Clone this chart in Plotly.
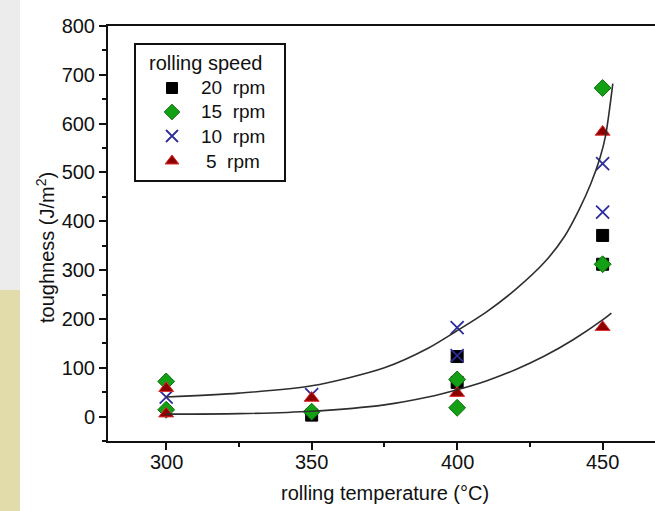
import plotly.graph_objects as go

# Measured toughness at each rolling temperature, per rolling speed
temp_20 = [350, 400, 400, 450, 450]
tough_20 = [3, 123, 70, 371, 312]

temp_15 = [300, 300, 350, 400, 400, 450, 450]
tough_15 = [72, 14, 10, 76, 18, 673, 312]

temp_10 = [300, 350, 400, 400, 450, 450]
tough_10 = [40, 45, 182, 125, 518, 419]

temp_5 = [300, 300, 350, 400, 450, 450]
tough_5 = [58, 6, 38, 48, 583, 183]

speed_labels = ["20\u00a0\u00a0rpm", "15\u00a0\u00a0rpm", "10\u00a0\u00a0rpm", "5\u00a0\u00a0rpm"]

# Trend curves (upper and lower envelopes)
trend_hi_t = [300, 325, 350, 375, 390, 400, 410, 420, 430, 437, 442, 446, 449, 451, 453.5]
trend_hi_v = [40, 48, 63, 100, 140, 176, 214, 260, 316, 370, 425, 478, 528, 575, 682]
trend_lo_t = [300, 325, 350, 375, 390, 400, 410, 420, 430, 440, 450, 453]
trend_lo_v = [5, 6, 11, 24, 40, 55, 73, 96, 124, 158, 198, 212]

x_ticks = [300, 350, 400, 450]
y_ticks = [0, 100, 200, 300, 400, 500, 600, 700, 800]

FONT = "Arial, Liberation Sans, sans-serif"
INK = "#111111"

styles = [
    dict(symbol="square", size=12, color="#000000",
         line=dict(color="#000000", width=1)),
    dict(symbol="diamond", size=13, color="#14a014",
         line=dict(color="#0b6e0b", width=1)),
    dict(symbol="x-thin", size=13, color="#2c2c9c",
         line=dict(color="#2c2c9c", width=1.8)),
    dict(symbol="triangle-up", size=13, color="#8c0000",
         line=dict(color="#e03030", width=1)),
]
series = [(temp_20, tough_20), (temp_15, tough_15),
          (temp_10, tough_10), (temp_5, tough_5)]

fig = go.Figure()

for (tx, ty), name, st in zip(series, speed_labels, styles):
    fig.add_trace(go.Scatter(x=tx, y=ty, mode="markers", name=name,
                             marker=st, showlegend=False))

for tx, ty in ((trend_hi_t, trend_hi_v), (trend_lo_t, trend_lo_v)):
    fig.add_trace(go.Scatter(
        x=tx, y=ty, mode="lines", showlegend=False, hoverinfo="skip",
        line=dict(color="#2e2e2e", width=1.6, shape="spline", smoothing=0.8),
    ))

L, R, T, B = 108, 0, 26, 70
W, H = 655, 511
pw, ph = W - L - R, H - T - B


def px_x(p):
    return (p - L) / pw


def px_y(p):
    return (H - B - p) / ph


# Key box: symbols on a pixel-scaled overlay axis, labels as text
key_sym_x = 172
key_text_x = [199, 199, 199, 204]
key_rows = [88, 112, 136, 161]

for name, st, ky in zip(speed_labels, styles, key_rows):
    small = dict(st)
    small["size"] = st["size"] - 1
    fig.add_trace(go.Scatter(x=[key_sym_x], y=[ky], mode="markers",
                             marker=small, xaxis="x2", yaxis="y2",
                             showlegend=False, hoverinfo="skip", name=name))

for name, kx, ky in zip(speed_labels, key_text_x, key_rows):
    fig.add_annotation(text=name, xref="paper", yref="paper",
                       x=px_x(kx), y=px_y(ky), xanchor="left", yanchor="middle",
                       showarrow=False, font=dict(family=FONT, size=19, color=INK))

fig.add_annotation(text="rolling speed", xref="paper", yref="paper",
                   x=px_x(147), y=px_y(63), xanchor="left", yanchor="middle",
                   showarrow=False, font=dict(family=FONT, size=20, color=INK))

fig.add_shape(type="rect", xref="paper", yref="paper",
              x0=px_x(135), x1=px_x(285), y0=px_y(181), y1=px_y(44),
              fillcolor="rgba(0,0,0,0)", line=dict(color=INK, width=2))

# page strip along the left edge
fig.add_shape(type="rect", xref="paper", yref="paper",
              x0=px_x(0), x1=px_x(20), y0=px_y(290), y1=px_y(0),
              fillcolor="#ececec", line_width=0, layer="below")
fig.add_shape(type="rect", xref="paper", yref="paper",
              x0=px_x(0), x1=px_x(20), y0=px_y(H), y1=px_y(290),
              fillcolor="#e2dcaa", line_width=0, layer="below")

# x tick labels, placed at their tick values
for v in x_ticks:
    fig.add_annotation(text=str(v), xref="x", yref="paper",
                       x=v, y=px_y(462), xanchor="center", yanchor="middle",
                       showarrow=False, font=dict(family=FONT, size=20, color=INK))

fig.add_annotation(
    text="toughness (J/m<sup>2</sup>)", xref="paper", yref="paper",
    x=px_x(45), y=px_y(248), textangle=-90,
    showarrow=False, font=dict(family=FONT, size=20, color=INK),
    xanchor="center", yanchor="middle",
)
fig.add_annotation(
    text="rolling temperature (\u00b0C)", xref="paper", yref="paper",
    x=px_x(385), y=px_y(493),
    showarrow=False, font=dict(family=FONT, size=20, color=INK),
    xanchor="center", yanchor="middle",
)

fig.update_layout(
    width=W, height=H,
    margin=dict(l=L, r=R, t=T, b=B, pad=0),
    paper_bgcolor="white", plot_bgcolor="white",
    font=dict(family=FONT, size=20, color=INK),
    showlegend=False,
    xaxis=dict(
        range=[280, 468], tickvals=x_ticks, showticklabels=False,
        showgrid=False, zeroline=False,
        showline=True, linecolor=INK, linewidth=2, mirror=True,
        ticks="outside", ticklen=7, tickwidth=2, tickcolor=INK,
        minor=dict(tickvals=[325, 375, 425], ticks="outside", ticklen=4,
                   tickwidth=2, tickcolor=INK),
    ),
    yaxis=dict(
        range=[-50, 800], tickvals=y_ticks, ticktext=[str(v) for v in y_ticks],
        showgrid=False, zeroline=False,
        showline=True, linecolor=INK, linewidth=2,
        ticks="outside", ticklen=7, tickwidth=2, tickcolor=INK,
        minor=dict(tickvals=[-50, 50, 150, 250, 350, 450, 550, 650, 750],
                   ticks="outside", ticklen=4, tickwidth=2, tickcolor=INK),
        tickfont=dict(family=FONT, size=20),
    ),
    xaxis2=dict(overlaying="x", range=[L, W], visible=False, fixedrange=True),
    yaxis2=dict(overlaying="y", range=[H - B, T], visible=False, fixedrange=True),
)

fig.write_html("out.html")
